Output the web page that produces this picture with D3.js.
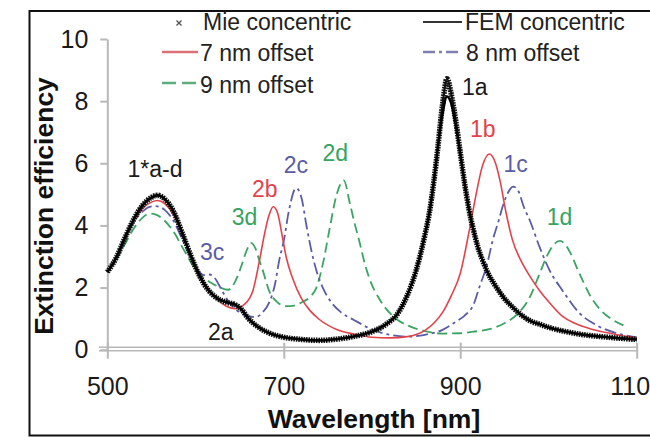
<!DOCTYPE html>
<html>
<head>
<meta charset="utf-8">
<script src="https://cdn.jsdelivr.net/npm/d3@7"></script>
<style>
  html, body { margin: 0; padding: 0; background: #fff; }
  svg { display: block; font-family: "Liberation Sans", Arial, sans-serif; }
</style>
</head>
<body>
<svg id="chart" width="650" height="437"></svg>
<script>
// ---------------- data ----------------
const xTicks = [500, 700, 900, 1100];
const yTicks = [0, 2, 4, 6, 8, 10];

const concentricWl = [500,510,520,530,540,550,557,565,575,585,595,605,615,625,635,645,652,660,670,680,690,700,720,740,760,780,800,815,830,840,850,860,865,870,875,880,885,890,895,900,905,910,915,920,925,930,940,950,960,970,980,990,1000,1020,1040,1060,1080,1100];
const femValues = [2.5,2.95,3.6,4.2,4.65,4.9,4.97,4.85,4.45,3.75,3.0,2.35,1.9,1.65,1.53,1.45,1.3,1.0,0.75,0.58,0.47,0.4,0.33,0.3,0.34,0.43,0.58,0.8,1.2,1.75,2.55,3.7,4.4,5.4,6.6,7.6,8.15,7.9,7.2,6.3,5.35,4.5,3.85,3.3,2.9,2.55,2.05,1.65,1.35,1.1,0.92,0.82,0.72,0.58,0.48,0.42,0.37,0.33];
const mieValues = [2.5,2.95,3.6,4.2,4.65,4.9,4.97,4.85,4.45,3.75,3.0,2.35,1.9,1.65,1.53,1.45,1.3,1.0,0.75,0.58,0.47,0.4,0.33,0.3,0.34,0.43,0.58,0.8,1.2,1.75,2.55,3.7,4.4,5.4,6.6,7.9,8.72,8.2,7.35,6.35,5.35,4.5,3.85,3.3,2.9,2.55,2.05,1.65,1.35,1.1,0.92,0.82,0.72,0.58,0.48,0.42,0.37,0.33];

const offset7Wl = [500,510,520,530,540,550,557,565,575,585,595,605,615,625,635,645,655,665,672,678,683,688,693,698,703,710,720,730,740,760,780,800,820,840,860,870,880,890,900,910,918,925,933,940,945,952,959,970,979,990,1000,1016,1030,1050,1075,1100];
const offset7Values = [2.5,2.95,3.6,4.15,4.55,4.75,4.8,4.7,4.35,3.7,3.0,2.4,1.95,1.6,1.4,1.32,1.45,1.9,2.8,3.7,4.3,4.6,4.4,3.7,2.95,2.3,1.65,1.25,0.98,0.65,0.5,0.4,0.38,0.42,0.62,0.85,1.2,1.75,2.45,3.8,5.0,5.9,6.3,6.0,5.45,4.4,3.55,2.8,2.36,1.9,1.55,1.07,0.85,0.65,0.5,0.38];

const offset8Wl = [500,510,520,530,540,548,555,565,575,585,595,603,610,616,622,630,640,650,660,668,676,684,690,695,700,706,714,720,726,732,737,745,752,765,780,800,820,840,860,880,895,905,915,922,930,937,943,948,955,960,966,972,979,990,1001,1016,1035,1055,1075,1100];
const offset8Values = [2.5,2.95,3.55,4.1,4.45,4.6,4.62,4.5,4.15,3.55,2.95,2.55,2.4,2.42,2.3,1.9,1.45,1.2,1.08,1.05,1.2,1.55,2.1,2.9,3.5,4.5,5.2,4.9,3.95,3.1,2.55,1.95,1.6,1.2,0.95,0.65,0.48,0.42,0.48,0.64,0.9,1.1,1.45,2.04,2.7,3.54,4.1,4.6,5.1,5.25,5.1,4.6,4.15,3.3,2.57,1.9,1.18,0.78,0.55,0.4];

const offset9Wl = [500,510,520,530,540,548,555,565,575,585,595,603,610,618,628,637,645,652,658,663,668,672,676,684,692,703,712,722,730,737,745,752,760,768,775,780,786,792,797,809,824,843,860,880,900,915,933,950,965,979,990,998,1005,1013,1020,1026,1032,1040,1047,1060,1073,1088];
const offset9Values = [2.5,2.9,3.4,3.9,4.25,4.38,4.35,4.15,3.8,3.3,2.8,2.45,2.3,2.15,2.0,1.93,2.2,2.7,3.2,3.43,3.25,2.9,2.57,1.85,1.55,1.4,1.42,1.55,1.7,2.0,2.85,3.9,5.0,5.45,4.7,4.1,3.45,2.75,2.3,1.6,1.07,0.75,0.6,0.52,0.53,0.58,0.66,0.85,1.15,1.7,2.45,3.0,3.35,3.5,3.35,3.05,2.65,2.15,1.75,1.25,0.96,0.75];

const legendLabels = ["Mie concentric", "FEM concentric", "7 nm offset", "8 nm offset", "9 nm offset"];

// peak annotations: text, anchor wavelength, anchor value (left/baseline of label)
const peakLabels = ["1*a-d", "2a", "3c", "3d", "2b", "2c", "2d", "1a", "1b", "1c", "1d"];
const peakLabelWl = [523, 614, 605, 641, 664, 700, 744, 902, 911, 949, 998];
const peakLabelVal = [5.57, 0.31, 2.89, 4.01, 4.91, 5.69, 6.07, 8.2, 6.85, 5.72, 4.01];
const peakLabelSeries = ["conc", "conc", "o8", "o9", "o7", "o8", "o9", "conc", "o7", "o8", "o9"];

// ---------------- drawing ----------------
const colors = { conc: "#1a1a1a", o7: "#e2434b", o8: "#5a5ca8", o9: "#3aa563" };
const textColors = { conc: "#1a1a1a", o7: "#e2434b", o8: "#5a5ca8", o9: "#36a35f" };

const svg = d3.select("#chart");
const x = d3.scaleLinear().domain([500, 1100]).range([107.3, 636.7]);
const y = d3.scaleLinear().domain([0, 10]).range([349.7, 39]);

// frame
svg.append("rect").attr("x", 29.5).attr("y", 11).attr("width", 680).attr("height", 424.5)
  .attr("fill", "none").attr("stroke", "#111").attr("stroke-width", 2);

const axisGray = "#b8b8b8";

// y axis
const yAxis = svg.append("g").attr("transform", "translate(107.3,0)")
  .call(d3.axisLeft(y).tickValues(yTicks).tickSize(7).tickSizeOuter(0).tickPadding(12));
yAxis.select(".domain").attr("stroke", axisGray).attr("stroke-width", 2);
yAxis.selectAll(".tick line").attr("stroke", axisGray).attr("stroke-width", 2);
yAxis.selectAll(".tick text").attr("font-size", 25).attr("fill", "#1a1a1a")
  .attr("font-family", "Liberation Sans, Arial, sans-serif");

// x axis (double gray line)
svg.append("line").attr("x1", 99).attr("x2", 637).attr("y1", 347.2).attr("y2", 347.2)
  .attr("stroke", axisGray).attr("stroke-width", 1.5);
const xAxis = svg.append("g").attr("transform", "translate(0,350.7)")
  .call(d3.axisBottom(x).tickValues(xTicks).tickFormat(d3.format("d")).tickSize(8).tickSizeOuter(0).tickPadding(19));
xAxis.select(".domain").remove();
xAxis.append("line").attr("x1", 99).attr("x2", 637).attr("y1", 0).attr("y2", 0)
  .attr("stroke", axisGray).attr("stroke-width", 1.5);
xAxis.selectAll(".tick line").attr("y1", -8).attr("stroke", axisGray).attr("stroke-width", 2);
xAxis.selectAll(".tick text").attr("font-size", 25).attr("fill", "#1a1a1a")
  .attr("font-family", "Liberation Sans, Arial, sans-serif");

// axis titles
svg.append("text").attr("transform", "translate(53,206) rotate(-90)")
  .attr("text-anchor", "middle").attr("font-size", 26.5).attr("font-weight", "bold")
  .attr("fill", "#111").text("Extinction efficiency");
svg.append("text").attr("x", 374).attr("y", 428)
  .attr("text-anchor", "middle").attr("font-size", 26.5).attr("font-weight", "bold")
  .attr("fill", "#111").text("Wavelength [nm]");

// series
const line = d3.line().x(d => x(d[0])).y(d => y(d[1])).curve(d3.curveMonotoneX);
const zip = (a, b) => a.map((v, i) => [v, b[i]]);

const plot = svg.append("g");
plot.append("path").datum(zip(offset9Wl, offset9Values)).attr("d", line)
  .attr("fill", "none").attr("stroke", colors.o9).attr("stroke-width", 1.8).attr("stroke-dasharray", "10,5");
plot.append("path").datum(zip(offset8Wl, offset8Values)).attr("d", line)
  .attr("fill", "none").attr("stroke", colors.o8).attr("stroke-width", 1.8).attr("stroke-dasharray", "12,4,3,4");
plot.append("path").datum(zip(offset7Wl, offset7Values)).attr("d", line)
  .attr("fill", "none").attr("stroke", colors.o7).attr("stroke-width", 1.6);

// Mie concentric (dense x markers -> serrated thick band)
plot.append("path").datum(zip(concentricWl, mieValues)).attr("d", line)
  .attr("fill", "none").attr("stroke", "#111").attr("stroke-width", 5.5).attr("stroke-dasharray", "1.6,0.9");
plot.append("path").datum(zip(concentricWl, mieValues)).attr("d", line)
  .attr("fill", "none").attr("stroke", "#111").attr("stroke-width", 2.2);
// FEM concentric
plot.append("path").datum(zip(concentricWl, femValues)).attr("d", line)
  .attr("fill", "none").attr("stroke", "#000").attr("stroke-width", 2.4);

// peak labels
svg.append("g").selectAll("text").data(peakLabels).join("text")
  .attr("x", (d, i) => x(peakLabelWl[i]))
  .attr("y", (d, i) => y(peakLabelVal[i]))
  .attr("font-size", 23)
  .attr("fill", (d, i) => textColors[peakLabelSeries[i]])
  .text(d => d);

// legend
const lg = svg.append("g").attr("font-size", 23).attr("fill", "#222");
// Mie marker
lg.append("path").attr("d", "M176.5,20.5 L181.5,25.5 M181.5,20.5 L176.5,25.5")
  .attr("stroke", "#555").attr("stroke-width", 1.4);
lg.append("text").attr("x", 203).attr("y", 30).text(legendLabels[0]);
lg.append("line").attr("x1", 423).attr("x2", 462).attr("y1", 22).attr("y2", 22)
  .attr("stroke", "#333").attr("stroke-width", 2.2);
lg.append("text").attr("x", 465).attr("y", 30).text(legendLabels[1]);
lg.append("line").attr("x1", 162).attr("x2", 198).attr("y1", 52).attr("y2", 52)
  .attr("stroke", "#d9707a").attr("stroke-width", 2.4);
lg.append("text").attr("x", 200).attr("y", 61).text(legendLabels[2]);
lg.append("line").attr("x1", 423).attr("x2", 462).attr("y1", 52).attr("y2", 52)
  .attr("stroke", "#7f80b0").attr("stroke-width", 2.4).attr("stroke-dasharray", "12,4,3,4");
lg.append("text").attr("x", 466).attr("y", 61).text(legendLabels[3]);
lg.append("line").attr("x1", 162).attr("x2", 198).attr("y1", 83).attr("y2", 83)
  .attr("stroke", "#5cad7c").attr("stroke-width", 2.4).attr("stroke-dasharray", "14,6");
lg.append("text").attr("x", 200).attr("y", 93).text(legendLabels[4]);
</script>
</body>
</html>
